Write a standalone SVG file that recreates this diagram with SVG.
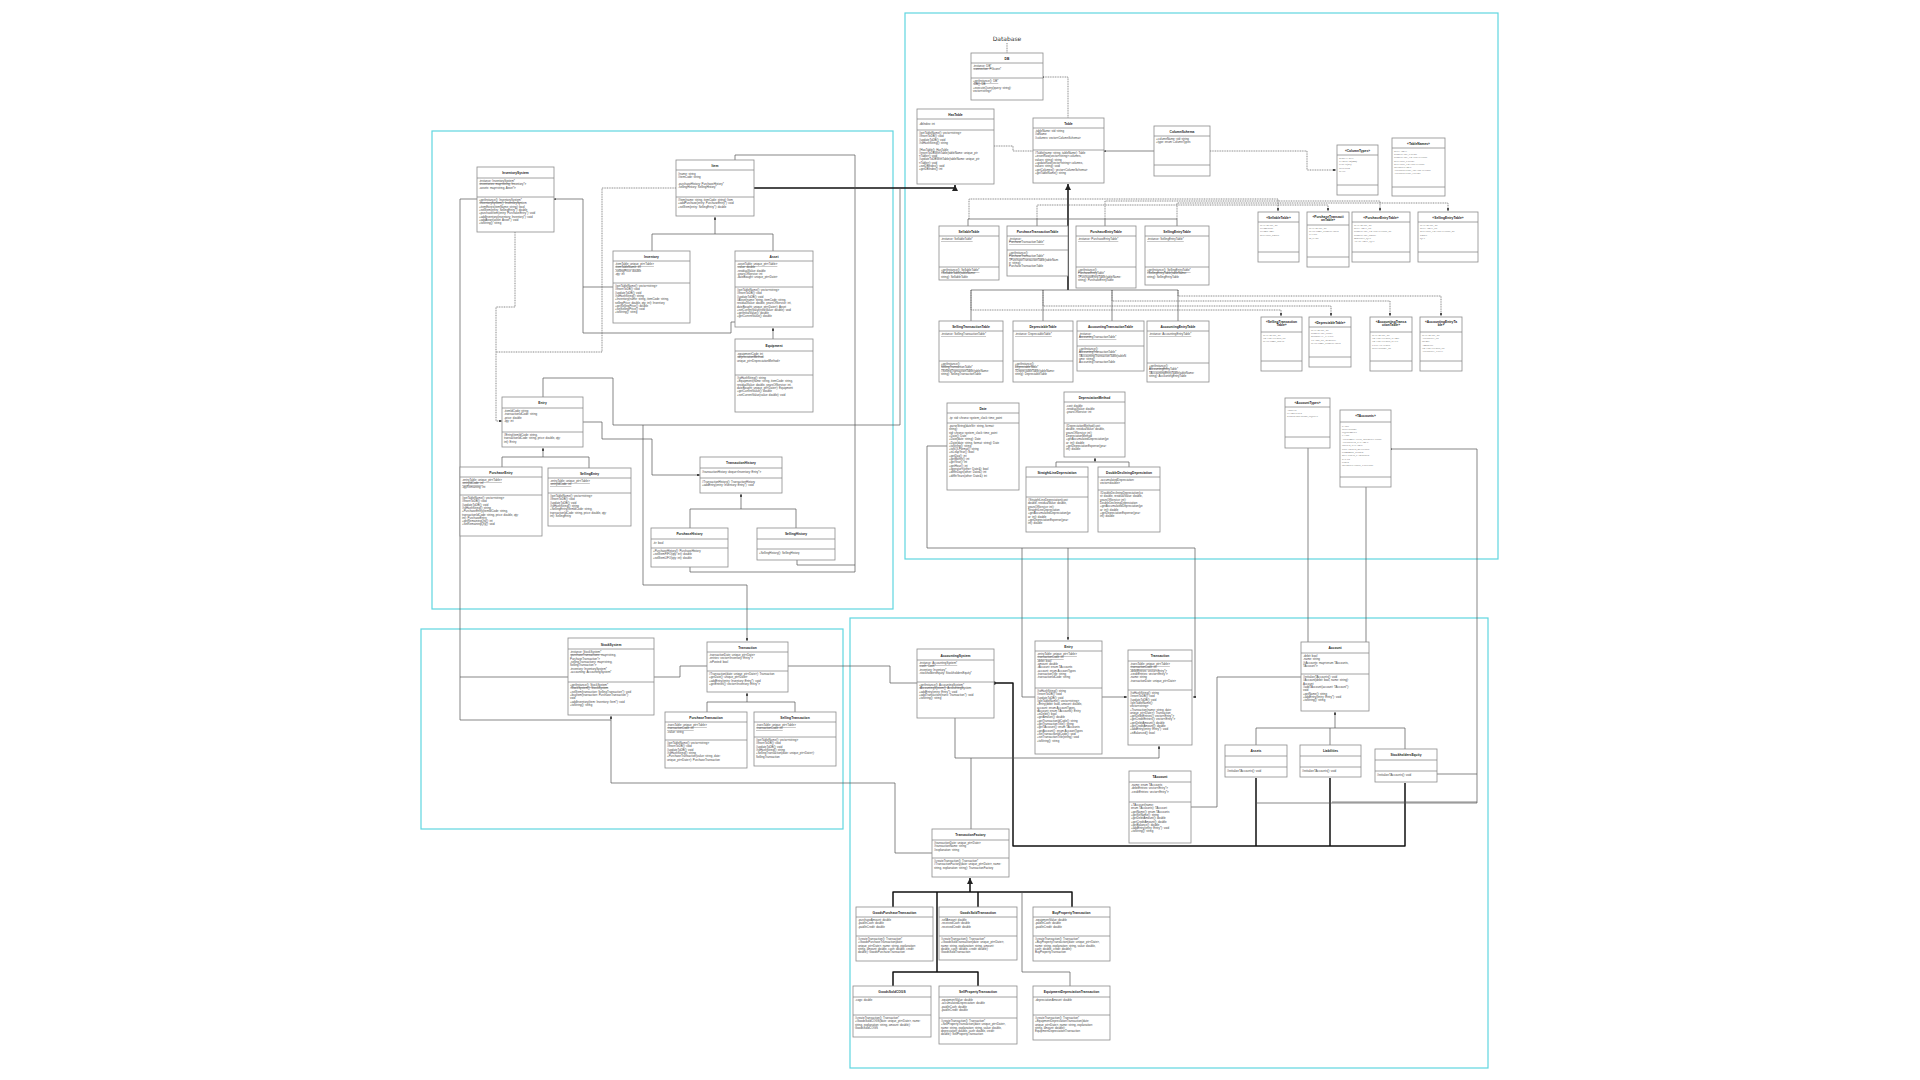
<svg xmlns="http://www.w3.org/2000/svg" width="1920" height="1080" viewBox="0 0 1920 1080">
<style>
.box{fill:#fff;stroke:#8c8c8c;stroke-width:0.8}
.sep{stroke:#8c8c8c;stroke-width:0.8}
.t{font-family:"Liberation Sans",Arial,sans-serif;font-size:3.3px;font-weight:bold;fill:#222;text-anchor:middle}
.m{font-family:"Liberation Sans",Arial,sans-serif;font-size:2.9px;fill:#444}
.u{text-decoration:underline}
.e{font-family:"Liberation Serif",serif;font-size:2.6px;fill:#444}
.pkg{fill:none;stroke:#5fd6e0;stroke-width:1.2}
.c{fill:none;stroke:#555;stroke-width:0.7;stroke-linejoin:round}
.k{stroke:#111;stroke-width:1.5}
.d{stroke-dasharray:1 0.7}
.lbl{font-family:"DejaVu Sans",sans-serif;font-size:6px;fill:#333;text-anchor:middle}
</style>
<defs>
<marker id="a" viewBox="0 0 6 6" refX="6" refY="3" markerWidth="4" markerHeight="4" orient="auto"><path d="M0,0 L6,3 L0,6 z" fill="#222"/></marker>
<marker id="o" viewBox="0 0 4 4" refX="2" refY="2" markerWidth="2.5" markerHeight="2.5"><circle cx="2" cy="2" r="2" fill="#222"/></marker>
</defs>
<rect width="1920" height="1080" fill="#fff"/>
<g id="packages">
<rect class="pkg" x="905" y="13" width="593" height="546"/>
<rect class="pkg" x="432" y="131" width="461" height="478"/>
<rect class="pkg" x="421" y="629" width="422" height="200"/>
<rect class="pkg" x="850" y="618" width="638" height="450"/>
<text class="lbl" x="1007" y="41">Database</text>
</g>
<g id="connectors">
<path class="c d" d="M1007,43 V53"/>
<path class="c k" d="M754,188 H955 V185" marker-end="url(#a)"/>
<path class="c" d="M652,251 V234 H773 V251 M715,234 V217" marker-end="url(#a)"/>
<path class="c" d="M773,339 V328" marker-end="url(#a)"/>
<path class="c" d="M555,199 H583 V287 H613 M583,287 V333 H731 V322 H735" marker-start="url(#o)"/>
<path class="c d" d="M515,232 V307 H496 V421 H502" marker-end="url(#a)"/>
<path class="c d" d="M676,188 H602 V352 H496"/>
<path class="c" d="M502,467 V457 H589 V468 M543,457 V448" marker-end="url(#a)"/>
<path class="c" d="M543,397 V378 H613 V425 H900 V188"/>
<path class="c" d="M583,422 H602 V439 H652 V475 H700" marker-end="url(#a)"/>
<path class="c" d="M690,528 V509 H796 V528 M741,509 V494" marker-end="url(#a)"/>
<path class="c" d="M690,567 V572 H855 V155 H735 V160 M797,560 V565 H855"/>
<path class="c" d="M643,425 V585 H747 V641" marker-end="url(#a)"/>
<path class="c" d="M477,199 H460 V720 H611 M460,677 H568"/>
<path class="c d" d="M1043,77 H1068 V118" marker-start="url(#o)"/>
<path class="c d" d="M994,146 H1013 V151 H1033"/>
<path class="c" d="M1154,151 H1105" marker-end="url(#o)"/>
<path class="c d" d="M1210,151 H1307 V170 H1336" marker-end="url(#a)"/>
<path class="c k" d="M1068,290 V184" marker-end="url(#a)"/>
<path class="c" d="M968,226 V219 H1177 V226 M1037,219 V226 M1105,219 V226"/>
<path class="c" d="M971,321 V290 H1178 V321 M1043,290 V321 M1112,290 V321"/>
<path class="c d" d="M969,219 V199 H1278 V211" marker-end="url(#a)"/>
<path class="c d" d="M1037,219 V205 H1328 V211" marker-end="url(#a)"/>
<path class="c d" d="M1105,219 V201 H1380 V211" marker-end="url(#a)"/>
<path class="c d" d="M1177,219 V203 H1448 V211" marker-end="url(#a)"/>
<path class="c d" d="M971,290 V310 H1281 V316" marker-end="url(#a)"/>
<path class="c d" d="M1043,290 V306 H1331 V316" marker-end="url(#a)"/>
<path class="c d" d="M1112,290 V301 H1390 V316" marker-end="url(#a)"/>
<path class="c d" d="M1178,290 V296 H1441 V316" marker-end="url(#a)"/>
<path class="c" d="M1056,467 V462 H1129 V467 M1095,462 V458" marker-end="url(#a)"/>
<path class="c" d="M947,446 H927 V548 H1195 V697 H1193" marker-end="url(#a)"/>
<path class="c" d="M1068,548 V640" marker-end="url(#a)"/>
<path class="c" d="M654,677 H680 V666 H707"/>
<path class="c" d="M788,666 H890 V683 H917"/>
<path class="c" d="M707,712 V702 H795 V712 M747,702 V693" marker-end="url(#a)"/>
<path class="c" d="M932,853 H895 V783 H611 V716" marker-end="url(#a)"/>
<path class="c k" d="M994,683 H1013 V846 H1405 V783 M1256,846 V778 M1330,846 V778" marker-start="url(#o)"/>
<path class="c" d="M955,718 V758 H1159 V746" marker-end="url(#a)"/>
<path class="c" d="M971,829 V758"/>
<path class="c" d="M1035,697 H1022 V548"/>
<path class="c" d="M1102,697 H1127" marker-end="url(#a)"/>
<path class="c" d="M1191,807 H1217 V677 H1301"/>
<path class="c" d="M1256,745 V728 H1405 V749 M1330,728 V745 M1335,728 V712" marker-end="url(#a)"/>
<path class="c" d="M1391,449 H1477 V803 H1256 M1477,802 H1332 M1477,774 H1437" marker-start="url(#o)"/>
<path class="c" d="M1308,448 V642"/>
<path class="c" d="M1366,487 V642"/>
<path class="c k" d="M893,907 V892 H1072 V907 M978,892 V907 M937,892 V972 H893 V986 M937,972 H978 V986 M970,892 V878" marker-end="url(#a)"/>
<path class="c" d="M1022,892 V972 H1070 V986"/>
</g>

<g id="n-InventorySystem"><rect class="box" x="477" y="167" width="77" height="65"/><line class="sep" x1="477" y1="178" x2="554" y2="178"/><line class="sep" x1="477" y1="197" x2="554" y2="197"/>
<text class="t" x="515.5" y="174">InventorySystem</text>
<text class="m" x="479" y="182"><tspan class="u">-instance: InventorySystem*</tspan><tspan x="479" dy="3.3">-inventories: map&lt;string, Inventory*&gt;</tspan><tspan x="479" dy="3.3">-assets: map&lt;string, Asset*&gt;</tspan></text>
<text class="m" x="479" y="201"><tspan class="u">+getInstance(): InventorySystem*</tspan><tspan x="479" dy="3.3">-InventorySystem(): InventorySystem</tspan><tspan x="479" dy="3.3">+itemExists(itemName: string): bool</tspan><tspan x="479" dy="3.3">+sellItem(entry: SellingEntry*): double</tspan><tspan x="479" dy="3.3">+purchaseItem(entry: PurchaseEntry*): void</tspan><tspan x="479" dy="3.3">+addInventory(inventory: Inventory*): void</tspan><tspan x="479" dy="3.3">+addAsset(asset: Asset*): void</tspan><tspan x="479" dy="3.3">+toString(): string</tspan></text></g>

<g id="n-Item"><rect class="box" x="676" y="160" width="78" height="56"/><line class="sep" x1="676" y1="170" x2="754" y2="170"/><line class="sep" x1="676" y1="197" x2="754" y2="197"/>
<text class="t" x="715" y="166.5">Item</text>
<text class="m" x="678" y="175">#name: string<tspan x="678" dy="3.3">#itemCode: string</tspan><tspan x="678" dy="6.6">-purchaseHistory: PurchaseHistory*</tspan><tspan x="678" dy="3.3">-sellingHistory: SellingHistory*</tspan></text>
<text class="m" x="678" y="201">#Item(name: string, itemCode: string): Item<tspan x="678" dy="3.3">+addPurchase(entry: PurchaseEntry*): void</tspan><tspan x="678" dy="3.3">+sellItem(entry: SellingEntry*): double</tspan></text></g>

<g id="n-Inventory"><rect class="box" x="613" y="251" width="77" height="72"/><line class="sep" x1="613" y1="261" x2="690" y2="261"/><line class="sep" x1="613" y1="283" x2="690" y2="283"/>
<text class="t" x="651.5" y="257.5">Inventory</text>
<text class="m" x="615" y="265"><tspan class="u">-itemTable: unique_ptr&lt;Table&gt;</tspan><tspan x="615" dy="3.3" class="u">-itemTableName: int</tspan><tspan x="615" dy="3.3">-sellingPrice: double</tspan><tspan x="615" dy="3.3">-qty: int</tspan></text>
<text class="m" x="615" y="287">#getTableName(): vector&lt;string&gt;<tspan x="615" dy="3.3">#insertToDB(): void</tspan><tspan x="615" dy="3.3">#updateToDB(): void</tspan><tspan x="615" dy="3.3">#toHashString(): string</tspan><tspan x="615" dy="3.3">+Inventory(name: string, itemCode: string,</tspan><tspan x="615" dy="3.3">sellingPrice: double, qty: int): Inventory</tspan><tspan x="615" dy="3.3">+getSellingPrice(): double</tspan><tspan x="615" dy="3.3">+setSellingPrice(): void</tspan><tspan x="615" dy="3.3">+toString(): string</tspan></text></g>

<g id="n-Asset"><rect class="box" x="735" y="251" width="78" height="76"/><line class="sep" x1="735" y1="261" x2="813" y2="261"/><line class="sep" x1="735" y1="287" x2="813" y2="287"/>
<text class="t" x="774" y="257.5">Asset</text>
<text class="m" x="737" y="265"><tspan class="u">-assetTable: unique_ptr&lt;Table&gt;</tspan><tspan x="737" dy="3.3">-value: double</tspan><tspan x="737" dy="3.3">-residualValue: double</tspan><tspan x="737" dy="3.3">-yearsOfService: int</tspan><tspan x="737" dy="3.3">-dateBought: unique_ptr&lt;Date&gt;</tspan></text>
<text class="m" x="737" y="291">#getTableName(): vector&lt;string&gt;<tspan x="737" dy="3.3">#insertToDB(): void</tspan><tspan x="737" dy="3.3">#updateToDB(): void</tspan><tspan x="737" dy="3.3">#Asset(name: string, itemCode: string,</tspan><tspan x="737" dy="3.3">residualValue: double, yearsOfService: int,</tspan><tspan x="737" dy="3.3">dateBought: unique_ptr&lt;Date&gt;): Asset</tspan><tspan x="737" dy="3.3">+setCurrentValue(newValue: double): void</tspan><tspan x="737" dy="3.3">+getInitialValue(): double</tspan><tspan x="737" dy="3.3">+getCurrentValue(): double</tspan></text></g>

<g id="n-Equipment"><rect class="box" x="735" y="339" width="78" height="73"/><line class="sep" x1="735" y1="351" x2="813" y2="351"/><line class="sep" x1="735" y1="375" x2="813" y2="375"/>
<text class="t" x="774" y="346.5">Equipment</text>
<text class="m" x="737" y="355"><tspan class="u">-equipmentCode: int</tspan><tspan x="737" dy="3.3">-depreciationMethod:</tspan><tspan x="737" dy="3.3">unique_ptr&lt;DepreciationMethod&gt;</tspan></text>
<text class="m" x="737" y="379">#toHashString(): string<tspan x="737" dy="3.3">+Equipment(name: string, itemCode: string,</tspan><tspan x="737" dy="3.3">residualValue: double, yearsOfService: int,</tspan><tspan x="737" dy="3.3">dateBought: unique_ptr&lt;Date&gt;): Equipment</tspan><tspan x="737" dy="3.3">+getCurrentValue(): double</tspan><tspan x="737" dy="3.3">+setCurrentValue(value: double): void</tspan></text></g>

<g id="n-Entry-inv"><rect class="box" x="502" y="397" width="81" height="50"/><line class="sep" x1="502" y1="408" x2="583" y2="408"/><line class="sep" x1="502" y1="432" x2="583" y2="432"/>
<text class="t" x="542.5" y="404">Entry</text>
<text class="m" x="504" y="412">-itemIdCode: string<tspan x="504" dy="3.3">-transactionIdCode: string</tspan><tspan x="504" dy="3.3">-price: double</tspan><tspan x="504" dy="3.3">-qty: int</tspan></text>
<text class="m" x="504" y="436">#Entry(itemIdCode: string,<tspan x="504" dy="3.3">transactionIdCode: string, price: double, qty:</tspan><tspan x="504" dy="3.3">int): Entry</tspan></text></g>

<g id="n-PurchaseEntry"><rect class="box" x="460" y="467" width="82" height="69"/><line class="sep" x1="460" y1="477" x2="542" y2="477"/><line class="sep" x1="460" y1="495" x2="542" y2="495"/>
<text class="t" x="501" y="473.5">PurchaseEntry</text>
<text class="m" x="462" y="481"><tspan class="u">-entryTable: unique_ptr&lt;Table&gt;</tspan><tspan x="462" dy="3.3" class="u">-entryIdCode: int</tspan><tspan x="462" dy="3.3">-qtyRemaining: int</tspan></text>
<text class="m" x="462" y="499">#getTableName(): vector&lt;string&gt;<tspan x="462" dy="3.3">#insertToDB(): void</tspan><tspan x="462" dy="3.3">#updateToDB(): void</tspan><tspan x="462" dy="3.3">#toHashString(): string</tspan><tspan x="462" dy="3.3">+PurchaseEntry(itemIdCode: string,</tspan><tspan x="462" dy="3.3">transactionIdCode: string, price: double, qty:</tspan><tspan x="462" dy="3.3">int): PurchaseEntry</tspan><tspan x="462" dy="3.3">+getRemainingQty(): int</tspan><tspan x="462" dy="3.3">+setRemainingQty(): void</tspan></text></g>

<g id="n-SellingEntry"><rect class="box" x="548" y="468" width="83" height="58"/><line class="sep" x1="548" y1="478" x2="631" y2="478"/><line class="sep" x1="548" y1="493" x2="631" y2="493"/>
<text class="t" x="589.5" y="474.5">SellingEntry</text>
<text class="m" x="550" y="482"><tspan class="u">-entryTable: unique_ptr&lt;Table&gt;</tspan><tspan x="550" dy="3.3" class="u">-entryIdCode: int</tspan></text>
<text class="m" x="550" y="497">#getTableName(): vector&lt;string&gt;<tspan x="550" dy="3.3">#insertToDB(): void</tspan><tspan x="550" dy="3.3">#updateToDB(): void</tspan><tspan x="550" dy="3.3">#toHashString(): string</tspan><tspan x="550" dy="3.3">+SellingEntry(itemIdCode: string,</tspan><tspan x="550" dy="3.3">transactionIdCode: string, price: double, qty:</tspan><tspan x="550" dy="3.3">int): SellingEntry</tspan></text></g>

<g id="n-TransactionHistory"><rect class="box" x="700" y="457" width="82" height="36"/><line class="sep" x1="700" y1="468" x2="782" y2="468"/><line class="sep" x1="700" y1="478" x2="782" y2="478"/>
<text class="t" x="741" y="464">TransactionHistory</text>
<text class="m" x="702" y="473">#transactionHistory: deque&lt;Inventory::Entry*&gt;</text>
<text class="m" x="702" y="482.5">#TransactionHistory(): TransactionHistory<tspan x="702" dy="3.3">+addEntry(entry: Inventory::Entry*): void</tspan></text></g>

<g id="n-PurchaseHistory"><rect class="box" x="651" y="528" width="77" height="39"/><line class="sep" x1="651" y1="539" x2="728" y2="539"/><line class="sep" x1="651" y1="548" x2="728" y2="548"/>
<text class="t" x="689.5" y="535">PurchaseHistory</text>
<text class="m" x="653" y="544">-itr: bool</text>
<text class="m" x="653" y="552">+PurchaseHistory(): PurchaseHistory<tspan x="653" dy="3.3">+sellItemFIFO(qty: int): double</tspan><tspan x="653" dy="3.3">+sellItemLIFO(qty: int): double</tspan></text></g>

<g id="n-SellingHistory"><rect class="box" x="757" y="528" width="78" height="32"/><line class="sep" x1="757" y1="539" x2="835" y2="539"/><line class="sep" x1="757" y1="549" x2="835" y2="549"/>
<text class="t" x="796" y="535">SellingHistory</text>
<text class="m" x="759" y="554">+SellingHistory(): SellingHistory</text></g>

<g id="n-DB"><rect class="box" x="971" y="53" width="72" height="47"/><line class="sep" x1="971" y1="63" x2="1043" y2="63"/><line class="sep" x1="971" y1="78" x2="1043" y2="78"/>
<text class="t" x="1007" y="59.5">DB</text>
<text class="m" x="973" y="67"><tspan class="u">-instance: DB*</tspan><tspan x="973" dy="3.3">-connection: PGconn*</tspan></text>
<text class="m" x="973" y="82"><tspan class="u">+getInstance(): DB*</tspan><tspan x="973" dy="3.3">-DB(): DB</tspan><tspan x="973" dy="3.3">+executeQuery(query: string):</tspan><tspan x="973" dy="3.3">vector&lt;string&gt;</tspan></text></g>

<g id="n-HasTable"><rect class="box" x="917" y="109" width="77" height="75"/><line class="sep" x1="917" y1="119" x2="994" y2="119"/><line class="sep" x1="917" y1="130" x2="994" y2="130"/>
<text class="t" x="955.5" y="115.5">HasTable</text>
<text class="m" x="919" y="125">-dbIndex: int</text>
<text class="m" x="919" y="134">#getTableName(): vector&lt;string&gt;<tspan x="919" dy="3.3">#insertToDB(): void</tspan><tspan x="919" dy="3.3">#updateToDB(): void</tspan><tspan x="919" dy="3.3">#toHashString(): string</tspan><tspan x="919" dy="6.6">#HasTable(): HasTable</tspan><tspan x="919" dy="3.3">#insertToDBWithTable(tableName: unique_ptr</tspan><tspan x="919" dy="3.3">&lt;Table&gt;): void</tspan><tspan x="919" dy="3.3">#updateToDBWithTable(tableName: unique_ptr</tspan><tspan x="919" dy="3.3">&lt;Table&gt;): void</tspan><tspan x="919" dy="3.3">+setDBIndex(): void</tspan><tspan x="919" dy="3.3">+getDBIndex(): int</tspan></text></g>

<g id="n-Table"><rect class="box" x="1033" y="118" width="71" height="65"/><line class="sep" x1="1033" y1="128" x2="1104" y2="128"/><line class="sep" x1="1033" y1="150" x2="1104" y2="150"/>
<text class="t" x="1068.5" y="124.5">Table</text>
<text class="m" x="1035" y="132">-tableName: std::string<tspan x="1035" dy="3.3">#idName</tspan><tspan x="1035" dy="3.3">#columns: vector&lt;ColumnSchema&gt;</tspan></text>
<text class="m" x="1035" y="154">#Table(name: string, tableName): Table<tspan x="1035" dy="3.3">+insertRow(vector&lt;string&gt; columns,</tspan><tspan x="1035" dy="3.3">values: string): string</tspan><tspan x="1035" dy="3.3">+updateRow(vector&lt;string&gt; columns,</tspan><tspan x="1035" dy="3.3">values: string): void</tspan><tspan x="1035" dy="3.3">+getColumns(): vector&lt;ColumnSchema&gt;</tspan><tspan x="1035" dy="3.3">+getTableName(): string</tspan></text></g>

<g id="n-ColumnSchema"><rect class="box" x="1154" y="126" width="56" height="50"/><line class="sep" x1="1154" y1="136" x2="1210" y2="136"/><line class="sep" x1="1154" y1="165" x2="1210" y2="165"/>
<text class="t" x="1182" y="132.5">ColumnSchema</text>
<text class="m" x="1156" y="140">+columnName: std::string<tspan x="1156" dy="3.3">+type: enum ColumnTypes</tspan></text></g>

<g id="n-ColumnTypes"><rect class="box" x="1337" y="145" width="41" height="50"/><line class="sep" x1="1337" y1="155" x2="1378" y2="155"/><line class="sep" x1="1337" y1="185" x2="1378" y2="185"/>
<text class="t" x="1357.5" y="151.5">«ColumnTypes»</text>
<text class="e" x="1339" y="159">SERIAL KEY<tspan x="1339" dy="3.2">VARCHAR(255)</tspan><tspan x="1339" dy="3.2">FLOAT(53)</tspan><tspan x="1339" dy="3.2">INTEGER</tspan><tspan x="1339" dy="3.2">DATE</tspan></text></g>

<g id="n-TableNames"><rect class="box" x="1392" y="138" width="53" height="58"/><line class="sep" x1="1392" y1="148" x2="1445" y2="148"/><line class="sep" x1="1392" y1="187" x2="1445" y2="187"/>
<text class="t" x="1418.5" y="144.5">«TableNames»</text>
<text class="e" x="1394" y="152">SELLABLE<tspan x="1394" dy="3.2">PURCHASE_ENTRY</tspan><tspan x="1394" dy="3.2">PURCHASE_TRANSACTION</tspan><tspan x="1394" dy="3.2">SELLING_ENTRY</tspan><tspan x="1394" dy="3.2">SELLING_TRANSACTION</tspan><tspan x="1394" dy="3.2">DEPRECIABLE</tspan><tspan x="1394" dy="3.2">ACCOUNTING_TRANSACTION</tspan><tspan x="1394" dy="3.2">ACCOUNTING_ENTRY</tspan></text></g>

<g id="n-ISellableTable"><rect class="box" x="1258" y="212" width="41" height="50"/><line class="sep" x1="1258" y1="222" x2="1299" y2="222"/><line class="sep" x1="1258" y1="252" x2="1299" y2="252"/>
<text class="t" x="1278.5" y="218.5">«SellableTable»</text>
<text class="e" x="1260" y="226">DATABASE_ID<tspan x="1260" dy="3.2">ITEMCODE</tspan><tspan x="1260" dy="3.2">ITEMNAME</tspan><tspan x="1260" dy="3.2">SELLING_PRICE</tspan></text></g>

<g id="n-IPurchaseTransactionTable"><rect class="box" x="1307" y="212" width="42" height="55"/><line class="sep" x1="1307" y1="225" x2="1349" y2="225"/><line class="sep" x1="1307" y1="257" x2="1349" y2="257"/>
<text class="t" x="1328" y="217.5">«PurchaseTransacti<tspan x="1328" dy="3.8">onTable»</tspan></text>
<text class="e" x="1309" y="229">DATABASE_ID<tspan x="1309" dy="3.2">DATETIME_PURCHASED</tspan><tspan x="1309" dy="3.2">VALUE</tspan><tspan x="1309" dy="3.2">IS_PAID</tspan></text></g>

<g id="n-IPurchaseEntryTable"><rect class="box" x="1352" y="212" width="58" height="50"/><line class="sep" x1="1352" y1="222" x2="1410" y2="222"/><line class="sep" x1="1352" y1="252" x2="1410" y2="252"/>
<text class="t" x="1381" y="218.5">«PurchaseEntryTable»</text>
<text class="e" x="1354" y="226">DATABASE_ID<tspan x="1354" dy="3.2">SELLABLE_ID</tspan><tspan x="1354" dy="3.2">PURCHASE_TRANSACTION_ID</tspan><tspan x="1354" dy="3.2">PURCHASE_PRICE</tspan><tspan x="1354" dy="3.2">BOUGHT_QTY</tspan><tspan x="1354" dy="3.2">AVAILABLE_QTY</tspan></text></g>

<g id="n-ISellingEntryTable"><rect class="box" x="1418" y="212" width="60" height="50"/><line class="sep" x1="1418" y1="222" x2="1478" y2="222"/><line class="sep" x1="1418" y1="252" x2="1478" y2="252"/>
<text class="t" x="1448" y="218.5">«SellingEntryTable»</text>
<text class="e" x="1420" y="226">DATABASE_ID<tspan x="1420" dy="3.2">SELLABLE_ID</tspan><tspan x="1420" dy="3.2">SELLING_TRANSACTION_ID</tspan><tspan x="1420" dy="3.2">PRICE</tspan><tspan x="1420" dy="3.2">QTY</tspan></text></g>

<g id="n-ISellingTransactionTable"><rect class="box" x="1261" y="317" width="41" height="54"/><line class="sep" x1="1261" y1="332" x2="1302" y2="332"/><line class="sep" x1="1261" y1="361" x2="1302" y2="361"/>
<text class="t" x="1281.5" y="322.5">«SellingTransaction<tspan x="1281.5" dy="3.8">Table»</tspan></text>
<text class="e" x="1263" y="336">DATABASE_ID<tspan x="1263" dy="3.2">TRANSACTION_ID</tspan><tspan x="1263" dy="3.2">DATETIME_SOLD</tspan></text></g>

<g id="n-IDepreciableTable"><rect class="box" x="1309" y="317" width="42" height="50"/><line class="sep" x1="1309" y1="327" x2="1351" y2="327"/><line class="sep" x1="1309" y1="357" x2="1351" y2="357"/>
<text class="t" x="1330" y="323.5">«DepreciableTable»</text>
<text class="e" x="1311" y="331">DATABASE_ID<tspan x="1311" dy="3.2">PURCHASE_COST</tspan><tspan x="1311" dy="3.2">RESIDUAL_VALUE</tspan><tspan x="1311" dy="3.2">YEARS_OF_SERVICE</tspan><tspan x="1311" dy="3.2">DATETIME_PURCHASED</tspan></text></g>

<g id="n-IAccountingTransactionTable"><rect class="box" x="1370" y="317" width="42" height="54"/><line class="sep" x1="1370" y1="332" x2="1412" y2="332"/><line class="sep" x1="1370" y1="361" x2="1412" y2="361"/>
<text class="t" x="1391" y="322.5">«AccountingTransa<tspan x="1391" dy="3.8">ctionTable»</tspan></text>
<text class="e" x="1372" y="336">DATABASE_ID<tspan x="1372" dy="3.2">TRANSACTION_NAME</tspan><tspan x="1372" dy="3.2">TRANSACTION_DATE</tspan><tspan x="1372" dy="3.2">EXPLANATION</tspan><tspan x="1372" dy="3.2">INVENTORY_ID</tspan></text></g>

<g id="n-IAccountingEntryTable"><rect class="box" x="1420" y="317" width="42" height="54"/><line class="sep" x1="1420" y1="332" x2="1462" y2="332"/><line class="sep" x1="1420" y1="361" x2="1462" y2="361"/>
<text class="t" x="1441" y="322.5">«AccountingEntryTa<tspan x="1441" dy="3.8">ble»</tspan></text>
<text class="e" x="1422" y="336">DATABASE_ID<tspan x="1422" dy="3.2">ACCOUNT_ID</tspan><tspan x="1422" dy="3.2">DEBIT</tspan><tspan x="1422" dy="3.2">AMOUNT</tspan><tspan x="1422" dy="3.2">TRANSACTION_ID</tspan><tspan x="1422" dy="3.2">ACCOUNT_TITLE</tspan></text></g>

<g id="n-SellableTable"><rect class="box" x="939" y="226" width="60" height="54"/><line class="sep" x1="939" y1="236" x2="999" y2="236"/><line class="sep" x1="939" y1="267" x2="999" y2="267"/>
<text class="t" x="969" y="232.5">SellableTable</text>
<text class="m u" x="941" y="240">-instance: SellableTable*</text>
<text class="m" x="941" y="271"><tspan class="u">+getInstance(): SellableTable*</tspan><tspan x="941" dy="3.3">#SellableTable(tableName:</tspan><tspan x="941" dy="3.3">string): SellableTable</tspan></text></g>

<g id="n-PurchaseTransactionTable"><rect class="box" x="1007" y="226" width="61" height="50"/><line class="sep" x1="1007" y1="236" x2="1068" y2="236"/><line class="sep" x1="1007" y1="250" x2="1068" y2="250"/>
<text class="t" x="1037.5" y="232.5">PurchaseTransactionTable</text>
<text class="m u" x="1009" y="240">-instance:<tspan x="1009" dy="3.3">PurchaseTransactionTable*</tspan></text>
<text class="m" x="1009" y="254"><tspan class="u">+getInstance():</tspan><tspan x="1009" dy="3.3" class="u">PurchaseTransactionTable*</tspan><tspan x="1009" dy="3.3">#PurchaseTransactionTable(tableNam</tspan><tspan x="1009" dy="3.3">e: string):</tspan><tspan x="1009" dy="3.3">PurchaseTransactionTable</tspan></text></g>

<g id="n-PurchaseEntryTable"><rect class="box" x="1076" y="226" width="60" height="62"/><line class="sep" x1="1076" y1="236" x2="1136" y2="236"/><line class="sep" x1="1076" y1="267" x2="1136" y2="267"/>
<text class="t" x="1106" y="232.5">PurchaseEntryTable</text>
<text class="m u" x="1078" y="240">-instance: PurchaseEntryTable*</text>
<text class="m" x="1078" y="271"><tspan class="u">+getInstance():</tspan><tspan x="1078" dy="3.3" class="u">PurchaseEntryTable*</tspan><tspan x="1078" dy="3.3">#PurchaseEntryTable(tableName:</tspan><tspan x="1078" dy="3.3">string): PurchaseEntryTable</tspan></text></g>

<g id="n-SellingEntryTable"><rect class="box" x="1145" y="226" width="64" height="59"/><line class="sep" x1="1145" y1="236" x2="1209" y2="236"/><line class="sep" x1="1145" y1="267" x2="1209" y2="267"/>
<text class="t" x="1177" y="232.5">SellingEntryTable</text>
<text class="m u" x="1147" y="240">-instance: SellingEntryTable*</text>
<text class="m" x="1147" y="271"><tspan class="u">+getInstance(): SellingEntryTable*</tspan><tspan x="1147" dy="3.3">#SellingEntryTable(tableName:</tspan><tspan x="1147" dy="3.3">string): SellingEntryTable</tspan></text></g>

<g id="n-SellingTransactionTable"><rect class="box" x="939" y="321" width="64" height="61"/><line class="sep" x1="939" y1="331" x2="1003" y2="331"/><line class="sep" x1="939" y1="361" x2="1003" y2="361"/>
<text class="t" x="971" y="327.5">SellingTransactionTable</text>
<text class="m u" x="941" y="335">-instance: SellingTransactionTable*</text>
<text class="m" x="941" y="365"><tspan class="u">+getInstance():</tspan><tspan x="941" dy="3.3" class="u">SellingTransactionTable*</tspan><tspan x="941" dy="3.3">#SellingTransactionTable(tableName:</tspan><tspan x="941" dy="3.3">string): SellingTransactionTable</tspan></text></g>

<g id="n-DepreciableTable"><rect class="box" x="1013" y="321" width="60" height="61"/><line class="sep" x1="1013" y1="331" x2="1073" y2="331"/><line class="sep" x1="1013" y1="361" x2="1073" y2="361"/>
<text class="t" x="1043" y="327.5">DepreciableTable</text>
<text class="m u" x="1015" y="335">-instance: DepreciableTable*</text>
<text class="m" x="1015" y="365"><tspan class="u">+getInstance():</tspan><tspan x="1015" dy="3.3" class="u">DepreciableTable*</tspan><tspan x="1015" dy="3.3">#DepreciableTable(tableName:</tspan><tspan x="1015" dy="3.3">string): DepreciableTable</tspan></text></g>

<g id="n-AccountingTransactionTable"><rect class="box" x="1077" y="321" width="67" height="50"/><line class="sep" x1="1077" y1="331" x2="1144" y2="331"/><line class="sep" x1="1077" y1="346" x2="1144" y2="346"/>
<text class="t" x="1110.5" y="327.5">AccountingTransactionTable</text>
<text class="m u" x="1079" y="335">-instance:<tspan x="1079" dy="3.3">AccountingTransactionTable*</tspan></text>
<text class="m" x="1079" y="350"><tspan class="u">+getInstance():</tspan><tspan x="1079" dy="3.3" class="u">AccountingTransactionTable*</tspan><tspan x="1079" dy="3.3">#AccountingTransactionTable(tableN</tspan><tspan x="1079" dy="3.3">ame: string):</tspan><tspan x="1079" dy="3.3">AccountingTransactionTable</tspan></text></g>

<g id="n-AccountingEntryTable"><rect class="box" x="1147" y="321" width="62" height="61"/><line class="sep" x1="1147" y1="331" x2="1209" y2="331"/><line class="sep" x1="1147" y1="363" x2="1209" y2="363"/>
<text class="t" x="1178" y="327.5">AccountingEntryTable</text>
<text class="m u" x="1149" y="335">-instance: AccountingEntryTable*</text>
<text class="m" x="1149" y="367"><tspan class="u">+getInstance():</tspan><tspan x="1149" dy="3.3" class="u">AccountingEntryTable*</tspan><tspan x="1149" dy="3.3">#AccountingEntryTable(tableName:</tspan><tspan x="1149" dy="3.3">string): AccountingEntryTable</tspan></text></g>

<g id="n-Date"><rect class="box" x="947" y="403" width="72" height="87"/><line class="sep" x1="947" y1="413" x2="1019" y2="413"/><line class="sep" x1="947" y1="423" x2="1019" y2="423"/>
<text class="t" x="983" y="409.5">Date</text>
<text class="m" x="949" y="418.5">-tp: std::chrono::system_clock::time_point</text>
<text class="m" x="949" y="427">-parseString(dateStr: string, format:<tspan x="949" dy="3.3">string):</tspan><tspan x="949" dy="3.3">std::chrono::system_clock::time_point</tspan><tspan x="949" dy="3.3">+Date(): Date</tspan><tspan x="949" dy="3.3">+Date(date: string): Date</tspan><tspan x="949" dy="3.3">+Date(date: string, format: string): Date</tspan><tspan x="949" dy="3.3">+toString(): string</tspan><tspan x="949" dy="3.3">+toSQLFormat(): string</tspan><tspan x="949" dy="3.3">+isLeapYear(): bool</tspan><tspan x="949" dy="3.3">+getDay(): int</tspan><tspan x="949" dy="3.3">+getMonth(): int</tspan><tspan x="949" dy="3.3">+getYear(): int</tspan><tspan x="949" dy="3.3">+getHour(): int</tspan><tspan x="949" dy="3.3">+operator&lt;(other: Date&amp;): bool</tspan><tspan x="949" dy="3.3">+diffInDays(other: Date&amp;): int</tspan><tspan x="949" dy="3.3">+diffInYears(other: Date&amp;): int</tspan></text></g>

<g id="n-DepreciationMethod"><rect class="box" x="1064" y="392" width="61" height="65"/><line class="sep" x1="1064" y1="402" x2="1125" y2="402"/><line class="sep" x1="1064" y1="423" x2="1125" y2="423"/>
<text class="t" x="1094.5" y="398.5">DepreciationMethod</text>
<text class="m" x="1066" y="406.5">-cost: double<tspan x="1066" dy="3.3">-residualValue: double</tspan><tspan x="1066" dy="3.3">-yearsOfService: int</tspan></text>
<text class="m" x="1066" y="427">#DepreciationMethod(cost:<tspan x="1066" dy="3.3">double, residualValue: double,</tspan><tspan x="1066" dy="3.3">yearsOfService: int):</tspan><tspan x="1066" dy="3.3">DepreciationMethod</tspan><tspan x="1066" dy="3.3">+getAccumulatedDepreciation(ye</tspan><tspan x="1066" dy="3.3">ar: int): double</tspan><tspan x="1066" dy="3.3">+getDepreciationExpense(year:</tspan><tspan x="1066" dy="3.3">int): double</tspan></text></g>

<g id="n-StraightLineDepreciation"><rect class="box" x="1026" y="467" width="62" height="65"/><line class="sep" x1="1026" y1="477" x2="1088" y2="477"/><line class="sep" x1="1026" y1="497" x2="1088" y2="497"/>
<text class="t" x="1057" y="473.5">StraightLineDepreciation</text>
<text class="m" x="1028" y="501">#StraightLineDepreciation(cost:<tspan x="1028" dy="3.3">double, residualValue: double,</tspan><tspan x="1028" dy="3.3">yearsOfService: int):</tspan><tspan x="1028" dy="3.3">StraightLineDepreciation</tspan><tspan x="1028" dy="3.3">+getAccumulatedDepreciation(ye</tspan><tspan x="1028" dy="3.3">ar: int): double</tspan><tspan x="1028" dy="3.3">+getDepreciationExpense(year:</tspan><tspan x="1028" dy="3.3">int): double</tspan></text></g>

<g id="n-DoubleDecliningDepreciation"><rect class="box" x="1098" y="467" width="62" height="65"/><line class="sep" x1="1098" y1="477" x2="1160" y2="477"/><line class="sep" x1="1098" y1="490" x2="1160" y2="490"/>
<text class="t" x="1129" y="473.5">DoubleDecliningDepreciation</text>
<text class="m" x="1100" y="481">-accumulatedDepreciation:<tspan x="1100" dy="3.3">vector&lt;double&gt;</tspan></text>
<text class="m" x="1100" y="494">#DoubleDecliningDepreciation(co<tspan x="1100" dy="3.3">st: double, residualValue: double,</tspan><tspan x="1100" dy="3.3">yearsOfService: int):</tspan><tspan x="1100" dy="3.3">DoubleDecliningDepreciation</tspan><tspan x="1100" dy="3.3">+getAccumulatedDepreciation(ye</tspan><tspan x="1100" dy="3.3">ar: int): double</tspan><tspan x="1100" dy="3.3">+getDepreciationExpense(year:</tspan><tspan x="1100" dy="3.3">int): double</tspan></text></g>

<g id="n-AccountTypes"><rect class="box" x="1285" y="398" width="45" height="50"/><line class="sep" x1="1285" y1="407" x2="1330" y2="407"/><line class="sep" x1="1285" y1="437" x2="1330" y2="437"/>
<text class="t" x="1307.5" y="404">«AccountTypes»</text>
<text class="e" x="1287" y="411">ASSETS<tspan x="1287" dy="3.2">LIABILITIES</tspan><tspan x="1287" dy="3.2">STOCKHOLDERS_EQUITY</tspan></text></g>

<g id="n-TAccounts"><rect class="box" x="1340" y="410" width="51" height="77"/><line class="sep" x1="1340" y1="422" x2="1391" y2="422"/><line class="sep" x1="1340" y1="477" x2="1391" y2="477"/>
<text class="t" x="1365.5" y="417">«TAccounts»</text>
<text class="e" x="1342" y="426.5">CASH<tspan x="1342" dy="3.3">INVENTORY</tspan><tspan x="1342" dy="3.3">EQUIPMENT</tspan><tspan x="1342" dy="3.3">LAND</tspan><tspan x="1342" dy="3.3">ACCUMULATED_DEPRECIATION</tspan><tspan x="1342" dy="3.3">ACCOUNTS_PAYABLE</tspan><tspan x="1342" dy="3.3">NOTES_PAYABLE</tspan><tspan x="1342" dy="3.3">UNEARNED_REVENUE</tspan><tspan x="1342" dy="3.3">COMMON_STOCK</tspan><tspan x="1342" dy="3.3">RETAINED_EARNINGS</tspan><tspan x="1342" dy="3.3">SALES</tspan><tspan x="1342" dy="3.3">COGS</tspan><tspan x="1342" dy="3.3">DEPRECIATION_EXPENSE</tspan></text></g>

<g id="n-StockSystem"><rect class="box" x="568" y="638" width="86" height="77"/><line class="sep" x1="568" y1="649" x2="654" y2="649"/><line class="sep" x1="568" y1="682" x2="654" y2="682"/>
<text class="t" x="611" y="645.5">StockSystem</text>
<text class="m" x="570" y="653"><tspan class="u">-instance: StockSystem*</tspan><tspan x="570" dy="3.3">-purchaseTransactions: map&lt;string,</tspan><tspan x="570" dy="3.3">PurchaseTransaction*&gt;</tspan><tspan x="570" dy="3.3">-sellingTransactions: map&lt;string,</tspan><tspan x="570" dy="3.3">SellingTransaction*&gt;</tspan><tspan x="570" dy="3.3">-inventory: InventorySystem*</tspan><tspan x="570" dy="3.3">-accounting: AccountingSystem*</tspan></text>
<text class="m" x="570" y="686"><tspan class="u">+getInstance(): StockSystem*</tspan><tspan x="570" dy="3.3">-StockSystem(): StockSystem</tspan><tspan x="570" dy="3.3">+sellItem(transaction: SellingTransaction*): void</tspan><tspan x="570" dy="3.3">+buyItem(transaction: PurchaseTransaction*):</tspan><tspan x="570" dy="3.3">void</tspan><tspan x="570" dy="3.3">+addInventory(item: Inventory::Item*): void</tspan><tspan x="570" dy="3.3">+toString(): string</tspan></text></g>

<g id="n-Transaction-stock"><rect class="box" x="707" y="642" width="81" height="50"/><line class="sep" x1="707" y1="652" x2="788" y2="652"/><line class="sep" x1="707" y1="671" x2="788" y2="671"/>
<text class="t" x="747.5" y="648.5">Transaction</text>
<text class="m" x="709" y="656">-transactionDate: unique_ptr&lt;Date&gt;<tspan x="709" dy="3.3">-entries: vector&lt;Inventory::Entry*&gt;</tspan><tspan x="709" dy="3.3">-isPosted: bool</tspan></text>
<text class="m" x="709" y="675">#Transaction(date: unique_ptr&lt;Date&gt;): Transaction<tspan x="709" dy="3.3">+getDate(): unique_ptr&lt;Date&gt;</tspan><tspan x="709" dy="3.3">+addEntry(entry: Inventory::Entry*): void</tspan><tspan x="709" dy="3.3">+getEntries(): vector&lt;Inventory::Entry*&gt;</tspan></text></g>

<g id="n-PurchaseTransaction"><rect class="box" x="665" y="712" width="82" height="56"/><line class="sep" x1="665" y1="722" x2="747" y2="722"/><line class="sep" x1="665" y1="740" x2="747" y2="740"/>
<text class="t" x="706" y="718.5">PurchaseTransaction</text>
<text class="m" x="667" y="726"><tspan class="u">-transTable: unique_ptr&lt;Table&gt;</tspan><tspan x="667" dy="3.3" class="u">-transactionCode: int</tspan><tspan x="667" dy="3.3">-value: string</tspan></text>
<text class="m" x="667" y="744">#getTableName(): vector&lt;string&gt;<tspan x="667" dy="3.3">#insertToDB(): void</tspan><tspan x="667" dy="3.3">#updateToDB(): void</tspan><tspan x="667" dy="3.3">#toHashString(): string</tspan><tspan x="667" dy="3.3">+PurchaseTransaction(value: string, date:</tspan><tspan x="667" dy="3.3">unique_ptr&lt;Date&gt;): PurchaseTransaction</tspan></text></g>

<g id="n-SellingTransaction"><rect class="box" x="754" y="712" width="82" height="54"/><line class="sep" x1="754" y1="722" x2="836" y2="722"/><line class="sep" x1="754" y1="737" x2="836" y2="737"/>
<text class="t" x="795" y="718.5">SellingTransaction</text>
<text class="m" x="756" y="726"><tspan class="u">-transTable: unique_ptr&lt;Table&gt;</tspan><tspan x="756" dy="3.3" class="u">-transactionCode: int</tspan></text>
<text class="m" x="756" y="741">#getTableName(): vector&lt;string&gt;<tspan x="756" dy="3.3">#insertToDB(): void</tspan><tspan x="756" dy="3.3">#updateToDB(): void</tspan><tspan x="756" dy="3.3">#toHashString(): string</tspan><tspan x="756" dy="3.3">+SellingTransaction(date: unique_ptr&lt;Date&gt;):</tspan><tspan x="756" dy="3.3">SellingTransaction</tspan></text></g>

<g id="n-AccountingSystem"><rect class="box" x="917" y="649" width="77" height="69"/><line class="sep" x1="917" y1="660" x2="994" y2="660"/><line class="sep" x1="917" y1="682" x2="994" y2="682"/>
<text class="t" x="955.5" y="656.5">AccountingSystem</text>
<text class="m" x="919" y="664"><tspan class="u">-instance: AccountingSystem*</tspan><tspan x="919" dy="3.3">-cash: Cash*</tspan><tspan x="919" dy="3.3">-inventory: Inventory*</tspan><tspan x="919" dy="3.3">-stockholdersEquity: StockholdersEquity*</tspan></text>
<text class="m" x="919" y="686"><tspan class="u">+getInstance(): AccountingSystem*</tspan><tspan x="919" dy="3.3">-AccountingSystem(): AccountingSystem</tspan><tspan x="919" dy="3.3">+addEntry(entry: Entry*): void</tspan><tspan x="919" dy="3.3">+addTransaction(trans: Transaction*): void</tspan><tspan x="919" dy="3.3">+toString(): string</tspan></text></g>

<g id="n-Entry-acct"><rect class="box" x="1035" y="641" width="67" height="113"/><line class="sep" x1="1035" y1="651" x2="1102" y2="651"/><line class="sep" x1="1035" y1="688" x2="1102" y2="688"/>
<text class="t" x="1068.5" y="647.5">Entry</text>
<text class="m" x="1037" y="655"><tspan class="u">-entryTable: unique_ptr&lt;Table&gt;</tspan><tspan x="1037" dy="3.3" class="u">-transactionCode: int</tspan><tspan x="1037" dy="3.3">-debit: bool</tspan><tspan x="1037" dy="3.3">-amount: double</tspan><tspan x="1037" dy="3.3">-tAccount: enum TAccounts</tspan><tspan x="1037" dy="3.3">-account: enum AccountTypes</tspan><tspan x="1037" dy="3.3">-transactionTitle: string</tspan><tspan x="1037" dy="3.3">-transactionIdCode: string</tspan></text>
<text class="m" x="1037" y="692">#toHashString(): string<tspan x="1037" dy="3.3">#insertToDB(): void</tspan><tspan x="1037" dy="3.3">#updateToDB(): void</tspan><tspan x="1037" dy="3.3">#getTableName(): vector&lt;string&gt;</tspan><tspan x="1037" dy="3.3">+Entry(debit: bool, amount: double,</tspan><tspan x="1037" dy="3.3">account: enum AccountTypes,</tspan><tspan x="1037" dy="3.3">tAccount: enum TAccounts): Entry</tspan><tspan x="1037" dy="3.3">+isDebit(): bool</tspan><tspan x="1037" dy="3.3">+getAmount(): double</tspan><tspan x="1037" dy="3.3">+getTransactionIdCode(): string</tspan><tspan x="1037" dy="3.3">+getTransactionTitle(): string</tspan><tspan x="1037" dy="3.3">+getTAccount(): enum TAccounts</tspan><tspan x="1037" dy="3.3">+getAccount(): enum AccountTypes</tspan><tspan x="1037" dy="3.3">+setTransactionIdCode(): void</tspan><tspan x="1037" dy="3.3">+setTransactionTitle(string): void</tspan><tspan x="1037" dy="3.3">+toString(): string</tspan></text></g>

<g id="n-Transaction-acct"><rect class="box" x="1128" y="650" width="64" height="95"/><line class="sep" x1="1128" y1="661" x2="1192" y2="661"/><line class="sep" x1="1128" y1="690" x2="1192" y2="690"/>
<text class="t" x="1160" y="657">Transaction</text>
<text class="m" x="1130" y="665"><tspan class="u">-transTable: unique_ptr&lt;Table&gt;</tspan><tspan x="1130" dy="3.3" class="u">-transactionCode: int</tspan><tspan x="1130" dy="3.3">-debitEntries: vector&lt;Entry*&gt;</tspan><tspan x="1130" dy="3.3">-creditEntries: vector&lt;Entry*&gt;</tspan><tspan x="1130" dy="3.3">-name: string</tspan><tspan x="1130" dy="3.3">-transactionDate: unique_ptr&lt;Date&gt;</tspan></text>
<text class="m" x="1130" y="694">#toHashString(): string<tspan x="1130" dy="3.3">#insertToDB(): void</tspan><tspan x="1130" dy="3.3">#updateToDB(): void</tspan><tspan x="1130" dy="3.3">#getTableName():</tspan><tspan x="1130" dy="3.3">vector&lt;string&gt;</tspan><tspan x="1130" dy="3.3">+Transaction(name: string, date:</tspan><tspan x="1130" dy="3.3">unique_ptr&lt;Date&gt;): Transaction</tspan><tspan x="1130" dy="3.3">+getDebitEntries(): vector&lt;Entry*&gt;</tspan><tspan x="1130" dy="3.3">+getCreditEntries(): vector&lt;Entry*&gt;</tspan><tspan x="1130" dy="3.3">+getDebitAmount(): double</tspan><tspan x="1130" dy="3.3">+getCreditAmount(): double</tspan><tspan x="1130" dy="3.3">+addEntry(entry: Entry*): void</tspan><tspan x="1130" dy="3.3">+isBalanced(): bool</tspan></text></g>

<g id="n-TAccount"><rect class="box" x="1129" y="771" width="62" height="72"/><line class="sep" x1="1129" y1="782" x2="1191" y2="782"/><line class="sep" x1="1129" y1="802" x2="1191" y2="802"/>
<text class="t" x="1160" y="778">TAccount</text>
<text class="m" x="1131" y="786">-name: enum TAccounts<tspan x="1131" dy="3.3">-debitEntries: vector&lt;Entry*&gt;</tspan><tspan x="1131" dy="3.3">-creditEntries: vector&lt;Entry*&gt;</tspan></text>
<text class="m" x="1131" y="806">+TAccount(name:<tspan x="1131" dy="3.3">enum TAccounts): TAccount</tspan><tspan x="1131" dy="3.3">+getName(): enum TAccounts</tspan><tspan x="1131" dy="3.3">+getStrName(): string</tspan><tspan x="1131" dy="3.3">+getDebitAmount(): double</tspan><tspan x="1131" dy="3.3">+getCreditAmount(): double</tspan><tspan x="1131" dy="3.3">+getBalance(): double</tspan><tspan x="1131" dy="3.3">+addEntry(entry: Entry*): void</tspan><tspan x="1131" dy="3.3">+toString(): string</tspan></text></g>

<g id="n-Account"><rect class="box" x="1301" y="642" width="68" height="69"/><line class="sep" x1="1301" y1="653" x2="1369" y2="653"/><line class="sep" x1="1301" y1="674" x2="1369" y2="674"/>
<text class="t" x="1335" y="649">Account</text>
<text class="m" x="1303" y="657">-debit: bool<tspan x="1303" dy="3.3">-name: string</tspan><tspan x="1303" dy="3.3">#tAccounts: map&lt;enum TAccounts,</tspan><tspan x="1303" dy="3.3">TAccount*&gt;</tspan></text>
<text class="m" x="1303" y="678">#initializeTAccounts(): void<tspan x="1303" dy="3.3">#Account(debit: bool, name: string):</tspan><tspan x="1303" dy="3.3">Account</tspan><tspan x="1303" dy="3.3">#addTAccount(account: TAccount*):</tspan><tspan x="1303" dy="3.3">void</tspan><tspan x="1303" dy="3.3">+getName(): string</tspan><tspan x="1303" dy="3.3">+addEntry(entry: Entry*): void</tspan><tspan x="1303" dy="3.3">+toString(): string</tspan></text></g>

<g id="n-Assets"><rect class="box" x="1225" y="745" width="62" height="32"/><line class="sep" x1="1225" y1="756" x2="1287" y2="756"/><line class="sep" x1="1225" y1="767" x2="1287" y2="767"/>
<text class="t" x="1256" y="752">Assets</text>
<text class="m" x="1227" y="771.5">#initializeTAccounts(): void</text></g>

<g id="n-Liabilities"><rect class="box" x="1300" y="745" width="61" height="32"/><line class="sep" x1="1300" y1="756" x2="1361" y2="756"/><line class="sep" x1="1300" y1="767" x2="1361" y2="767"/>
<text class="t" x="1330.5" y="752">Liabilities</text>
<text class="m" x="1302" y="771.5">#initializeTAccounts(): void</text></g>

<g id="n-StockholdersEquity"><rect class="box" x="1375" y="749" width="62" height="33"/><line class="sep" x1="1375" y1="760" x2="1437" y2="760"/><line class="sep" x1="1375" y1="771" x2="1437" y2="771"/>
<text class="t" x="1406" y="756">StockholdersEquity</text>
<text class="m" x="1377" y="775.5">#initializeTAccounts(): void</text></g>

<g id="n-TransactionFactory"><rect class="box" x="932" y="829" width="77" height="48"/><line class="sep" x1="932" y1="840" x2="1009" y2="840"/><line class="sep" x1="932" y1="858" x2="1009" y2="858"/>
<text class="t" x="970.5" y="836">TransactionFactory</text>
<text class="m" x="934" y="844">#transactionDate: unique_ptr&lt;Date&gt;<tspan x="934" dy="3.3">#transactionName: string</tspan><tspan x="934" dy="3.3">#explanation: string</tspan></text>
<text class="m" x="934" y="862">#createTransaction(): Transaction*<tspan x="934" dy="3.3">#TransactionFactory(date: unique_ptr&lt;Date&gt;, name:</tspan><tspan x="934" dy="3.3">string, explanation: string): TransactionFactory</tspan></text></g>

<g id="n-GoodsPurchaseTransaction"><rect class="box" x="856" y="907" width="77" height="54"/><line class="sep" x1="856" y1="917" x2="933" y2="917"/><line class="sep" x1="856" y1="936" x2="933" y2="936"/>
<text class="t" x="894.5" y="913.5">GoodsPurchaseTransaction</text>
<text class="m" x="858" y="921">-purchaseAmount: double<tspan x="858" dy="3.3">-paidInCash: double</tspan><tspan x="858" dy="3.3">-paidInCredit: double</tspan></text>
<text class="m" x="858" y="940">#createTransaction(): Transaction*<tspan x="858" dy="3.3">+GoodsPurchaseTransaction(date:</tspan><tspan x="858" dy="3.3">unique_ptr&lt;Date&gt;, name: string, explanation:</tspan><tspan x="858" dy="3.3">string, amount: double, cash: double, credit:</tspan><tspan x="858" dy="3.3">double): GoodsPurchaseTransaction</tspan></text></g>

<g id="n-GoodsSoldTransaction"><rect class="box" x="939" y="907" width="78" height="53"/><line class="sep" x1="939" y1="917" x2="1017" y2="917"/><line class="sep" x1="939" y1="936" x2="1017" y2="936"/>
<text class="t" x="978" y="913.5">GoodsSoldTransaction</text>
<text class="m" x="941" y="921">-sellAmount: double<tspan x="941" dy="3.3">-receivedCash: double</tspan><tspan x="941" dy="3.3">-receivedCredit: double</tspan></text>
<text class="m" x="941" y="940">#createTransaction(): Transaction*<tspan x="941" dy="3.3">+GoodsSoldTransaction(date: unique_ptr&lt;Date&gt;,</tspan><tspan x="941" dy="3.3">name: string, explanation: string, amount:</tspan><tspan x="941" dy="3.3">double, cash: double, credit: double):</tspan><tspan x="941" dy="3.3">GoodsSoldTransaction</tspan></text></g>

<g id="n-BuyPropertyTransaction"><rect class="box" x="1033" y="907" width="77" height="54"/><line class="sep" x1="1033" y1="917" x2="1110" y2="917"/><line class="sep" x1="1033" y1="936" x2="1110" y2="936"/>
<text class="t" x="1071.5" y="913.5">BuyPropertyTransaction</text>
<text class="m" x="1035" y="921">-equipmentValue: double<tspan x="1035" dy="3.3">-paidInCash: double</tspan><tspan x="1035" dy="3.3">-paidInCredit: double</tspan></text>
<text class="m" x="1035" y="940">#createTransaction(): Transaction*<tspan x="1035" dy="3.3">+BuyPropertyTransaction(date: unique_ptr&lt;Date&gt;,</tspan><tspan x="1035" dy="3.3">name: string, explanation: string, value: double,</tspan><tspan x="1035" dy="3.3">cash: double, credit: double):</tspan><tspan x="1035" dy="3.3">BuyPropertyTransaction</tspan></text></g>

<g id="n-GoodsSoldCOGS"><rect class="box" x="853" y="986" width="78" height="51"/><line class="sep" x1="853" y1="997" x2="931" y2="997"/><line class="sep" x1="853" y1="1015" x2="931" y2="1015"/>
<text class="t" x="892" y="993">GoodsSoldCOGS</text>
<text class="m" x="855" y="1001">-cogs: double</text>
<text class="m" x="855" y="1019">#createTransaction(): Transaction*<tspan x="855" dy="3.3">+GoodsSoldCOGS(date: unique_ptr&lt;Date&gt;, name:</tspan><tspan x="855" dy="3.3">string, explanation: string, amount: double):</tspan><tspan x="855" dy="3.3">GoodsSoldCOGS</tspan></text></g>

<g id="n-SellPropertyTransaction"><rect class="box" x="939" y="986" width="78" height="58"/><line class="sep" x1="939" y1="997" x2="1017" y2="997"/><line class="sep" x1="939" y1="1018" x2="1017" y2="1018"/>
<text class="t" x="978" y="993">SellPropertyTransaction</text>
<text class="m" x="941" y="1001">-equipmentValue: double<tspan x="941" dy="3.3">-accumulatedDepreciation: double</tspan><tspan x="941" dy="3.3">-paidInCash: double</tspan><tspan x="941" dy="3.3">-paidInCredit: double</tspan></text>
<text class="m" x="941" y="1022">#createTransaction(): Transaction*<tspan x="941" dy="3.3">+SellPropertyTransaction(date: unique_ptr&lt;Date&gt;,</tspan><tspan x="941" dy="3.3">name: string, explanation: string, value: double,</tspan><tspan x="941" dy="3.3">depreciation: double, cash: double, credit:</tspan><tspan x="941" dy="3.3">double): SellPropertyTransaction</tspan></text></g>

<g id="n-EquipmentDepreciationTransaction"><rect class="box" x="1033" y="986" width="77" height="54"/><line class="sep" x1="1033" y1="997" x2="1110" y2="997"/><line class="sep" x1="1033" y1="1015" x2="1110" y2="1015"/>
<text class="t" x="1071.5" y="993">EquipmentDepreciationTransaction</text>
<text class="m" x="1035" y="1001">-depreciationAmount: double</text>
<text class="m" x="1035" y="1019">#createTransaction(): Transaction*<tspan x="1035" dy="3.3">+EquipmentDepreciationTransaction(date:</tspan><tspan x="1035" dy="3.3">unique_ptr&lt;Date&gt;, name: string, explanation:</tspan><tspan x="1035" dy="3.3">string, amount: double):</tspan><tspan x="1035" dy="3.3">EquipmentDepreciationTransaction</tspan></text></g>
</svg>
